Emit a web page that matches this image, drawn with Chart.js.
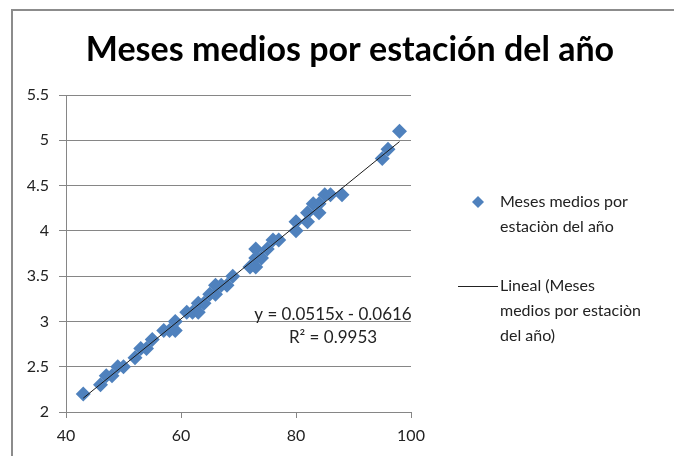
<!DOCTYPE html>
<html>
<head>
<meta charset="utf-8">
<script src="https://cdn.jsdelivr.net/npm/chart.js@4/dist/chart.umd.min.js"></script>
<style>
  html, body { margin: 0; padding: 0; background: #fff; }
  #wrap { position: relative; width: 674px; height: 456px; overflow: hidden; }
  #frame { position: absolute; left: 11px; top: 9px; right: -10px; bottom: -10px;
           border: 2px solid #8c8c8c; pointer-events: none; }
  canvas { position: absolute; left: 0; top: 0; }
</style>
</head>
<body>
<div id="wrap">
  <canvas id="c" width="674" height="456"></canvas>
  <div id="frame"></div>
</div>
<script>
// Porcentaje (eje X) frente a meses medios por estación del año (eje Y)
const xValues = [43, 46, 47, 48, 49, 50, 52, 53, 54, 55, 57, 58, 59, 59, 61, 62, 63, 63, 64, 65,
                 66, 66, 67, 68, 69, 72, 73, 73, 73, 74, 75, 76, 77, 80, 80, 82, 82, 83, 84, 84,
                 85, 86, 88, 95, 96, 98];
const yValues = [2.2, 2.3, 2.4, 2.4, 2.5, 2.5, 2.6, 2.7, 2.7, 2.8, 2.9, 2.9, 3.0, 2.9, 3.1, 3.1, 3.2, 3.1, 3.2, 3.3,
                 3.3, 3.4, 3.4, 3.4, 3.5, 3.6, 3.6, 3.7, 3.8, 3.7, 3.8, 3.9, 3.9, 4.0, 4.1, 4.1, 4.2, 4.3, 4.2, 4.3,
                 4.4, 4.4, 4.4, 4.8, 4.9, 5.1];

// Línea de tendencia lineal
const trendSlope = 0.0515;
const trendIntercept = -0.0616;
const trendR2 = 0.9953;

const titleText = 'Meses medios por estación del año';
const seriesName = ['Meses medios por', 'estaciòn del año'];
const trendName = ['Lineal (Meses', 'medios por estaciòn', 'del año)'];

const FONT = 'Lato, "Open Sans", sans-serif';
const BLUE = '#4f81bd';
const GRID = '#868686';

const points = xValues.map((x, i) => ({ x: x, y: yValues[i] }));
const xMin = Math.min(...xValues), xMax = Math.max(...xValues);
const trend = [xMin, xMax].map(x => ({ x: x, y: trendSlope * x + trendIntercept }));

const fmt = n => n.toFixed(4);

const decor = {
  id: 'decor',
  afterDraw(chart) {
    const ctx = chart.ctx;
    ctx.save();
    // título
    ctx.fillStyle = '#000';
    ctx.font = 'bold 34px ' + FONT;
    ctx.textAlign = 'center';
    ctx.textBaseline = 'middle';
    ctx.fillText(titleText, 350, 50);

    // ecuación y R²
    ctx.font = '17px ' + FONT;
    ctx.fillStyle = '#222';
    ctx.fillText('y = ' + fmt(trendSlope) + 'x - ' + fmt(-trendIntercept), 333, 315);
    ctx.fillText('R² = ' + fmt(trendR2), 333, 338);

    // leyenda
    ctx.textAlign = 'left';
    const lx = 500;
    // marcador rombo
    const mx = 478, my = 202, r = 6;
    ctx.fillStyle = BLUE;
    ctx.beginPath();
    ctx.moveTo(mx, my - r); ctx.lineTo(mx + r, my); ctx.lineTo(mx, my + r); ctx.lineTo(mx - r, my);
    ctx.closePath(); ctx.fill();
    ctx.font = '16px ' + FONT;
    ctx.fillStyle = '#222';
    seriesName.forEach((t, i) => ctx.fillText(t, lx, 202 + i * 25));
    // línea
    ctx.strokeStyle = '#222';
    ctx.lineWidth = 1;
    ctx.beginPath(); ctx.moveTo(458, 286.5); ctx.lineTo(498, 286.5); ctx.stroke();
    trendName.forEach((t, i) => ctx.fillText(t, lx, 286 + i * 25));
    ctx.restore();
  }
};

new Chart(document.getElementById('c'), {
  type: 'scatter',
  data: {
    datasets: [
      {
        label: seriesName.join(' '),
        data: points,
        pointStyle: 'rectRot',
        pointRadius: 7.5,
        pointHoverRadius: 7.5,
        backgroundColor: BLUE,
        borderColor: BLUE,
        borderWidth: 0,
        order: 2
      },
      {
        label: trendName.join(' '),
        type: 'line',
        data: trend,
        borderColor: '#1a1a1a',
        borderWidth: 1,
        pointRadius: 0,
        fill: false,
        order: 1
      }
    ]
  },
  options: {
    responsive: false,
    animation: false,
    events: [],
    layout: { padding: { left: 0, right: 263, top: 95, bottom: 0 } },
    plugins: { legend: { display: false }, title: { display: false }, tooltip: { enabled: false } },
    scales: {
      x: {
        type: 'linear',
        min: 40, max: 100,
        afterFit(s) { s.height = 44; },
        ticks: { stepSize: 20, padding: 8, color: '#222', font: { family: FONT, size: 16 } },
        grid: { display: true, drawOnChartArea: false, drawTicks: true, tickLength: 6, color: GRID, lineWidth: 1 },
        border: { display: true, color: GRID, width: 1 }
      },
      y: {
        type: 'linear',
        min: 2, max: 5.5,
        afterFit(s) { s.width = 66; },
        ticks: { stepSize: 0.5, padding: 10, color: '#222', font: { family: FONT, size: 16 },
                 callback: v => String(Math.round(v * 10) / 10) },
        grid: { color: GRID, lineWidth: 1, tickLength: 7, drawTicks: true },
        border: { display: true, color: GRID, width: 1 }
      }
    }
  },
  plugins: [decor]
});
</script>
</body>
</html>
